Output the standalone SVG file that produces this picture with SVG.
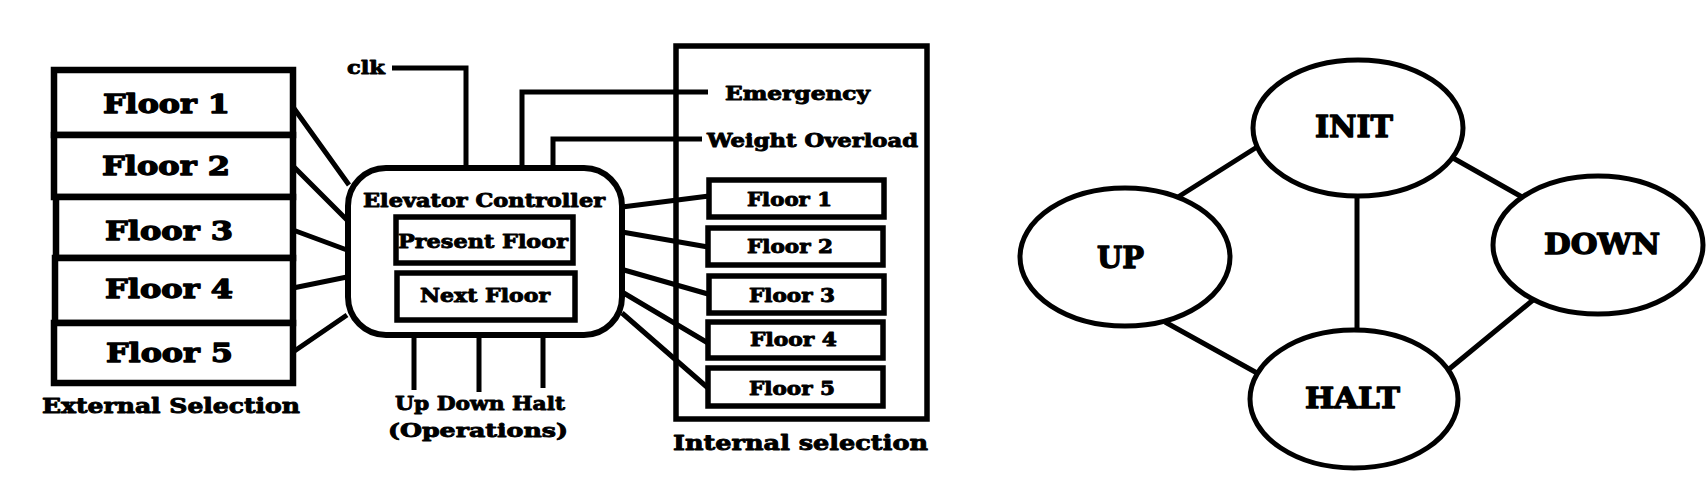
<svg xmlns="http://www.w3.org/2000/svg" width="1706" height="486" viewBox="0 0 1706 486">
<style>
.box{fill:#fff;stroke:#000;stroke-width:6.5}
.ibox{fill:#fff;stroke:#000;stroke-width:5.5}
.ell{fill:#fff;stroke:#000;stroke-width:5}
.ln{fill:none;stroke:#000;stroke-width:5;stroke-linejoin:miter}
.t{font-family:"DejaVu Serif","Liberation Serif",serif;font-weight:bold;fill:#000;stroke:#000;stroke-width:0.9;stroke-linejoin:round}
.big{stroke-width:1.3}
</style>
<rect width="1706" height="486" fill="#fff"/>
<g id="connectors">
<path class="ln" d="M293,107 L349,185 M293,166 L347,220 M293,230 L347,250 M293,288 L347,277 M293,352 L347,315"/>
<path class="ln" d="M622,207 L709,196 M622,232 L708,247 M617,268 L708,294 M622,292 L708,343 M622,313 L708,388"/>
<path class="ln" d="M392,68 H466 V168"/>
<path class="ln" d="M522,168 V92 H708"/>
<path class="ln" d="M553,168 V139 H702"/>
<path class="ln" d="M414,335 V390 M479,335 V392 M543,335 V388"/>
<path class="ln" d="M1257,147 L1178,197 M1357,197 V333 M1165,322 L1257,373 M1453,158 L1522,197 M1533,300 L1448,370"/>
</g>
<g id="external-selection">
<rect class="box" x="54" y="70" width="239" height="65"/>
<rect class="box" x="54" y="135" width="239" height="62"/>
<rect class="box" x="56" y="197" width="237" height="61"/>
<rect class="box" x="55" y="258" width="238" height="65"/>
<rect class="box" x="54" y="323" width="239" height="60"/>
<text class="t big" x="103" y="113" font-size="26" textLength="127" lengthAdjust="spacingAndGlyphs">Floor 1</text>
<text class="t big" x="102" y="175" font-size="26" textLength="128" lengthAdjust="spacingAndGlyphs">Floor 2</text>
<text class="t big" x="105" y="240" font-size="26" textLength="128" lengthAdjust="spacingAndGlyphs">Floor 3</text>
<text class="t big" x="105" y="298" font-size="26" textLength="128" lengthAdjust="spacingAndGlyphs">Floor 4</text>
<text class="t big" x="106" y="362" font-size="26" textLength="127" lengthAdjust="spacingAndGlyphs">Floor 5</text>
<text class="t" x="42" y="413" font-size="20" textLength="258" lengthAdjust="spacingAndGlyphs">External Selection</text>
</g>
<g id="clk"><text class="t" x="347" y="74" font-size="19" textLength="38" lengthAdjust="spacingAndGlyphs">clk</text></g>
<g id="controller">
<rect class="box" x="348" y="168" width="274" height="167" rx="38" ry="38" style="stroke-width:6"/>
<text class="t" x="363" y="207" font-size="18" textLength="242" lengthAdjust="spacingAndGlyphs">Elevator Controller</text>
<rect class="ibox" x="396" y="217" width="177" height="46"/>
<text class="t" x="398" y="248" font-size="19" textLength="170" lengthAdjust="spacingAndGlyphs">Present Floor</text>
<rect class="ibox" x="397" y="273" width="178" height="47"/>
<text class="t" x="420" y="302" font-size="19" textLength="130" lengthAdjust="spacingAndGlyphs">Next Floor</text>
</g>
<g id="operations">
<text class="t" x="395" y="410" font-size="19" textLength="170" lengthAdjust="spacingAndGlyphs">Up Down Halt</text>
<text class="t" x="388" y="437" font-size="19" textLength="180" lengthAdjust="spacingAndGlyphs">(Operations)</text>
</g>
<g id="internal-selection">
<rect class="ibox" x="676" y="46" width="251" height="373" style="fill:none"/>
<text class="t" x="725" y="100" font-size="18" textLength="145" lengthAdjust="spacingAndGlyphs">Emergency</text>
<text class="t" x="707" y="147" font-size="18" textLength="211" lengthAdjust="spacingAndGlyphs">Weight Overload</text>
<rect class="ibox" x="709" y="180" width="175" height="37"/>
<rect class="ibox" x="708" y="228" width="175" height="37"/>
<rect class="ibox" x="709" y="276" width="175" height="37"/>
<rect class="ibox" x="708" y="322" width="175" height="36"/>
<rect class="ibox" x="708" y="368" width="175" height="38"/>
<text class="t" x="747" y="206" font-size="18" textLength="85" lengthAdjust="spacingAndGlyphs">Floor 1</text>
<text class="t" x="747" y="253" font-size="18" textLength="86" lengthAdjust="spacingAndGlyphs">Floor 2</text>
<text class="t" x="749" y="302" font-size="18" textLength="86" lengthAdjust="spacingAndGlyphs">Floor 3</text>
<text class="t" x="750" y="346" font-size="18" textLength="87" lengthAdjust="spacingAndGlyphs">Floor 4</text>
<text class="t" x="749" y="395" font-size="18" textLength="86" lengthAdjust="spacingAndGlyphs">Floor 5</text>
<text class="t" x="673" y="450" font-size="21" textLength="255" lengthAdjust="spacingAndGlyphs">Internal selection</text>
</g>
<g id="state-init">
<ellipse class="ell" cx="1358" cy="128" rx="105" ry="68"/>
<text class="t big" x="1315" y="137" font-size="29" textLength="78" lengthAdjust="spacingAndGlyphs">INIT</text>
</g>
<g id="state-up">
<ellipse class="ell" cx="1125" cy="257" rx="105" ry="69"/>
<text class="t big" x="1097" y="268" font-size="29" textLength="47" lengthAdjust="spacingAndGlyphs">UP</text>
</g>
<g id="state-down">
<ellipse class="ell" cx="1598" cy="245" rx="105" ry="69"/>
<text class="t big" x="1544" y="254" font-size="27" textLength="116" lengthAdjust="spacingAndGlyphs">DOWN</text>
</g>
<g id="state-halt">
<ellipse class="ell" cx="1354" cy="399" rx="104" ry="69"/>
<text class="t big" x="1305" y="408" font-size="28" textLength="95" lengthAdjust="spacingAndGlyphs">HALT</text>
</g>
</svg>
